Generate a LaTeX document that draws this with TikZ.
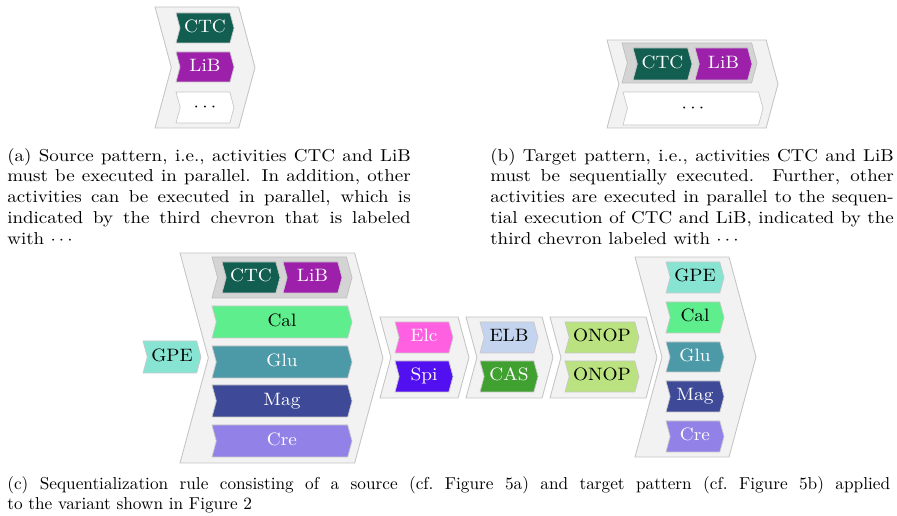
\documentclass[tikz,border=0pt]{standalone}
\usepackage{tikz}
\usepackage{graphicx}

\definecolor{frameline}{RGB}{196,196,196}
\definecolor{framefill}{RGB}{242,242,242}
\definecolor{grpline}{RGB}{190,190,190}
\definecolor{grpfill}{RGB}{212,212,212}
\definecolor{actline}{RGB}{200,200,200}
\definecolor{ctcc}{RGB}{18,94,80}
\definecolor{libc}{RGB}{156,32,170}
\definecolor{calc}{RGB}{94,238,142}
\definecolor{gluc}{RGB}{76,154,168}
\definecolor{magc}{RGB}{62,74,152}
\definecolor{crec}{RGB}{146,130,232}
\definecolor{gpec}{RGB}{136,228,210}
\definecolor{elcc}{RGB}{255,96,226}
\definecolor{spic}{RGB}{82,16,240}
\definecolor{elbc}{RGB}{196,212,238}
\definecolor{casc}{RGB}{64,160,48}
\definecolor{onopc}{RGB}{186,226,128}

\tikzset{
	act/.style={draw=actline, line width=0.4pt},
	lbl/.style={inner sep=0pt, text height=7pt, text depth=2pt},
	outerchev/.style={draw=frameline, fill=framefill, line width=0.5pt},
	grpchev/.style={draw=grpline, fill=grpfill, line width=0.4pt},
	ctcbox/.style={act, fill=ctcc, text=white},
	libbox/.style={act, fill=libc, text=white},
	calbox/.style={act, fill=calc},
	glubox/.style={act, fill=gluc, text=white},
	magbox/.style={act, fill=magc, text=white},
	crebox/.style={act, fill=crec, text=white},
	gpebox/.style={act, fill=gpec},
	elcbox/.style={act, fill=elcc, text=white},
	spibox/.style={act, fill=spic, text=white},
	elbbox/.style={act, fill=elbc},
	casbox/.style={act, fill=casc, text=white},
	onopbox/.style={act, fill=onopc},
	dotsbox/.style={act, fill=white},
	capt/.style={anchor=north west, inner sep=0pt}
}

% chevron: style, name, x1, y1, x2, y2, label
\newcommand{\actchev}[7]{%
	\pgfmathsetmacro{\chmid}{(#4+#6)/2}%
	\pgfmathsetmacro{\chd}{0.135*(#6-#4)}%
	\draw[#1] (#3,#4) -- ({#5-\chd},#4) -- (#5,\chmid) -- ({#5-\chd},#6) -- (#3,#6) -- ({#3+\chd},\chmid) -- cycle;
	\node[#1, draw=none, fill=none, lbl] (#2) at ({(#3+#5)/2},\chmid) {\scalebox{1.12}[1.04]{#7}};
}

% sub-caption, a little wider than the body text
\newcommand{\subcapt}[1]{\scalebox{1.1}[1]{\parbox[t]{212.7pt}{#1}}}

\begin{document}
\begin{tikzpicture}[x=0.58pt, y=-0.58pt]

	\useasboundingbox (0,0) rectangle (897,516);

	% (a) source pattern
	\actchev{outerchev}{srcframe}{155}{7}{255}{128}{}
	\actchev{ctcbox}{srcctc}{176}{13}{234}{43}{CTC}
	\actchev{libbox}{srclib}{176}{52}{234}{82}{LiB}
	\actchev{dotsbox}{srcdots}{176}{92}{234}{123}{$\cdots$}

	% (b) target pattern
	\actchev{outerchev}{tgtframe}{607}{40}{778}{128}{}
	\actchev{grpchev}{tgtgrp}{622}{43}{757}{83}{}
	\actchev{ctcbox}{tgtctc}{633}{48}{692}{80}{CTC}
	\actchev{libbox}{tgtlib}{695}{48}{752}{80}{LiB}
	\actchev{dotsbox}{tgtdots}{623}{92}{763}{125}{$\cdots$}

	\node[capt] (capa) at (7,148) {\subcapt{%
		(a) Source pattern, i.e., activities CTC and LiB\linebreak
		must be executed in parallel. In addition, other\linebreak
		activities can be executed in parallel, which is\linebreak
		indicated by the third chevron that is labeled\linebreak
		with $\cdots$}};
	\node[capt] (capb) at (490,148) {\subcapt{%
		(b) Target pattern, i.e., activities CTC and LiB\linebreak
		must be sequentially executed. Further, other\linebreak
		activities are executed in parallel to the sequen-\linebreak
		tial execution of CTC and LiB, indicated by the\linebreak
		third chevron labeled with $\cdots$}};

	% (c) rule applied to the variant
	\actchev{gpebox}{vgpe}{143}{341}{201}{373}{GPE}

	\actchev{outerchev}{vframe}{180}{253}{383}{463}{}
	\actchev{grpchev}{vgrp}{212}{257}{352}{298}{}
	\actchev{ctcbox}{vctc}{222}{262}{280}{293}{CTC}
	\actchev{libbox}{vlib}{283}{262}{342}{293}{LiB}
	\actchev{calbox}{vcal}{212}{306}{352}{338}{Cal}
	\actchev{glubox}{vglu}{212}{346}{352}{378}{Glu}
	\actchev{magbox}{vmag}{212}{385}{352}{417}{Mag}
	\actchev{crebox}{vcre}{212}{425}{352}{457}{Cre}

	\actchev{outerchev}{pone}{380}{317}{469}{398}{}
	\actchev{elcbox}{velc}{395}{322}{453}{353}{Elc}
	\actchev{spibox}{vspi}{395}{361}{453}{392}{Spi}

	\actchev{outerchev}{ptwo}{466}{317}{553}{398}{}
	\actchev{elbbox}{velb}{480}{322}{538}{353}{ELB}
	\actchev{casbox}{vcas}{480}{361}{538}{392}{CAS}

	\actchev{outerchev}{pthree}{550}{317}{657}{398}{}
	\actchev{onopbox}{vonopa}{565}{322}{639}{353}{ONOP}
	\actchev{onopbox}{vonopb}{565}{361}{639}{392}{ONOP}

	\actchev{outerchev}{pfour}{635}{257}{756}{457}{}
	\actchev{gpebox}{wgpe}{666}{262}{724}{293}{GPE}
	\actchev{calbox}{wcal}{666}{302}{724}{333}{Cal}
	\actchev{glubox}{wglu}{666}{342}{724}{372}{Glu}
	\actchev{magbox}{wmag}{666}{381}{724}{412}{Mag}
	\actchev{crebox}{wcre}{666}{421}{724}{452}{Cre}

	\node[capt, text width=512pt, align=justify] (capc) at (7,476)
		{(c) Sequentialization rule consisting of a source (cf.\ Figure 5a) and target pattern (cf.\ Figure 5b) applied\linebreak
		to the variant shown in Figure 2};

\end{tikzpicture}
\end{document}
